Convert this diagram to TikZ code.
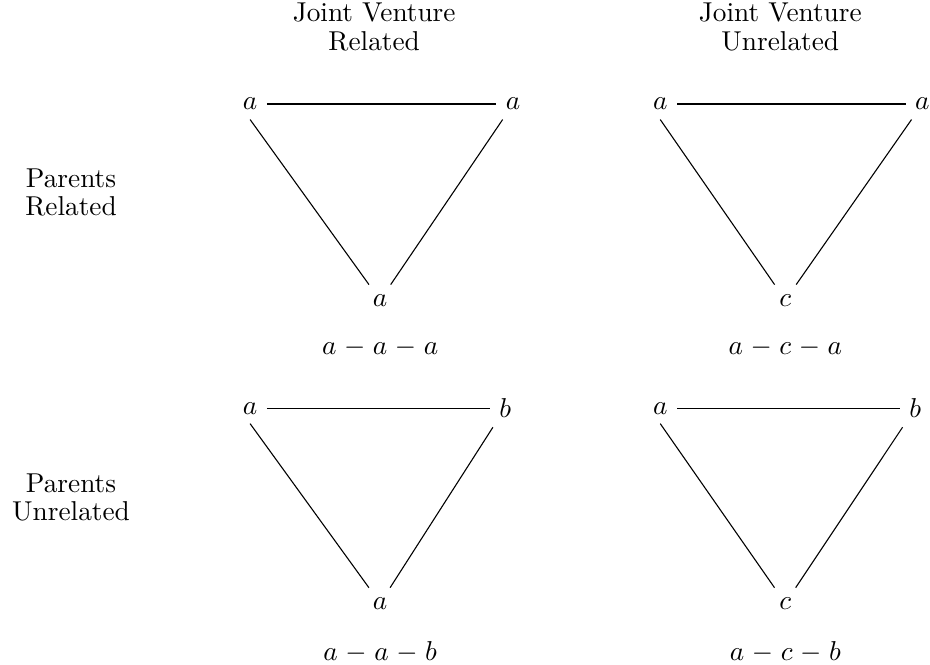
\documentclass[tikz,border=0pt]{standalone}
\usepackage{tikz}

\begin{document}
\begin{tikzpicture}[
  every node/.style={font=\normalsize},
  hdr/.style={align=center},
  vtx/.style={inner sep=3.33pt},
  chain/.style={inner sep=2pt, font={\normalsize\medmuskip=5mu\relax}},
  link/.style={draw, line width=0.4pt}
]
\useasboundingbox (0,0) rectangle (11.97,-8.55);

% column headings
\node[hdr] (jvrel)   at (4.816, -0.348) {Joint Venture\\[-1.6pt]Related};
\node[hdr] (jvunrel) at (10.043,-0.348) {Joint Venture\\[-1.6pt]Unrelated};

% row headings
\node[hdr] (prel)    at (0.914, -2.479) {Parents\\[-1.6pt]Related};
\node[hdr] (punrel)  at (0.914, -6.406) {Parents\\[-1.6pt]Unrelated};

% top left triangle (a-a-a)
\node[vtx] (tl1) at (3.219, -1.339) {$a$};
\node[vtx] (tl2) at (6.605, -1.339) {$a$};
\node[vtx] (tl3) at (4.893, -3.863) {$a$};
\node[chain] (tlseq) at (4.893, -4.481) {$a-a-a$};

% top right triangle (a-c-a)
\node[vtx] (tr1) at (8.498, -1.339) {$a$};
\node[vtx] (tr2) at (11.872,-1.339) {$a$};
\node[vtx] (tr3) at (10.108,-3.863) {$c$};
\node[chain] (trseq) at (10.108,-4.481) {$a-c-a$};

% bottom left triangle (a-a-b)
\node[vtx] (bl1) at (3.219, -5.253) {$a$};
\node[vtx] (bl2) at (6.502, -5.253) {$b$};
\node[vtx] (bl3) at (4.893, -7.764) {$a$};
\node[chain] (blseq) at (4.893, -8.395) {$a-a-b$};

% bottom right triangle (a-c-b)
\node[vtx] (br1) at (8.498, -5.253) {$a$};
\node[vtx] (br2) at (11.781,-5.253) {$b$};
\node[vtx] (br3) at (10.108,-7.764) {$c$};
\node[chain] (brseq) at (10.108,-8.395) {$a-c-b$};

% ======================
% EDGES
% ======================

\draw[link] (tl1) -- (tl2);
\draw[link] (tl1.south) -- (tl3);
\draw[link] (tl2) -- (tl3);

\draw[link] (tr1) -- (tr2);
\draw[link] (tr1.south) -- (tr3);
\draw[link] (tr2) -- (tr3);

\draw[link] (bl1) -- (bl2);
\draw[link] (bl1.south) -- (bl3);
\draw[link] (bl2) -- (bl3);

\draw[link] (br1) -- (br2);
\draw[link] (br1.south) -- (br3);
\draw[link] (br2) -- (br3);

\end{tikzpicture}
\end{document}
